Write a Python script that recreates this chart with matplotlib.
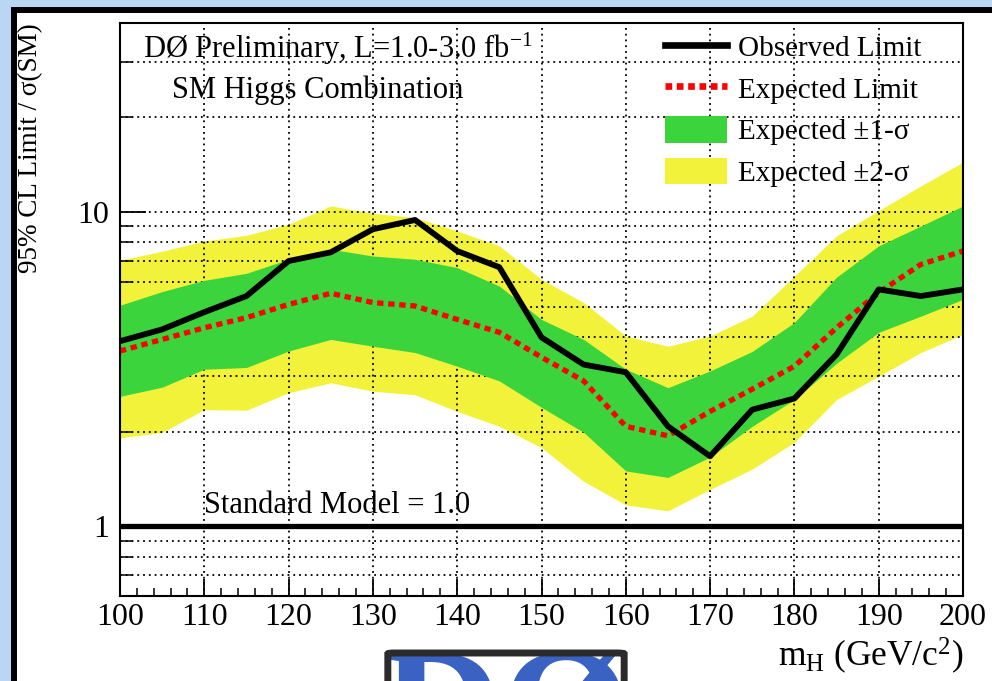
#region import
import matplotlib
matplotlib.use('Agg')
import matplotlib.pyplot as plt
from matplotlib.patches import Rectangle, FancyBboxPatch, Patch
from matplotlib.lines import Line2D
from matplotlib.ticker import FixedLocator, NullFormatter, FixedFormatter
#endregion

#region data
mass = [100, 105, 110, 115, 120, 125, 130, 135, 140, 145, 150,
        155, 160, 165, 170, 175, 180, 185, 190, 195, 200]
observed = [3.88, 4.23, 4.80, 5.40, 6.98, 7.44, 8.81, 9.43, 7.51, 6.67, 3.99,
            3.27, 3.09, 2.08, 1.67, 2.35, 2.55, 3.52, 5.67, 5.40, 5.67]
expected = [3.61, 3.93, 4.28, 4.61, 5.08, 5.51, 5.15, 5.02, 4.55, 4.14, 3.45,
            2.90, 2.08, 1.94, 2.32, 2.73, 3.23, 4.28, 5.54, 6.81, 7.51]
sig1_up = [5.05, 5.58, 6.06, 6.38, 7.07, 7.61, 7.24, 7.07, 6.65, 5.81, 4.55,
           3.93, 3.16, 2.76, 3.12, 3.60, 4.45, 6.20, 7.80, 9.02, 10.45]
sig1_dn = [2.59, 2.77, 3.16, 3.20, 3.61, 3.93, 3.74, 3.57, 3.23, 2.90, 2.39,
           1.99, 1.50, 1.43, 1.66, 2.08, 2.53, 3.30, 4.14, 4.66, 5.27]
sig2_up = [7.02, 7.50, 8.08, 8.43, 9.14, 10.45, 9.90, 9.60, 8.70, 7.80, 6.10,
           5.15, 4.03, 3.74, 4.03, 4.66, 6.25, 8.39, 10.10, 12.10, 14.40]
sig2_dn = [1.91, 1.99, 2.35, 2.34, 2.66, 2.86, 2.69, 2.62, 2.32, 2.08, 1.78,
           1.39, 1.17, 1.12, 1.31, 1.52, 1.85, 2.53, 3.00, 3.57, 4.08]

x_ticks = [100, 110, 120, 130, 140, 150, 160, 170, 180, 190, 200]
y_major = [1, 10]
y_minor = [0.6, 0.7, 0.8, 0.9, 2, 3, 4, 5, 6, 7, 8, 9, 20, 30, 40]
#endregion

#region config
plt.rcParams['font.family'] = ['Liberation Serif', 'DejaVu Serif']
plt.rcParams['mathtext.default'] = 'regular'
plt.rcParams['mathtext.fontset'] = 'custom'
plt.rcParams['mathtext.rm'] = 'Liberation Serif'

GREEN = '#3cd43c'
YELLOW = '#f2f23a'
#endregion

fig = plt.figure(figsize=(9.92, 6.81), dpi=100)
fig.patch.set_facecolor('#b9d6f4')

# white panel with the thick black frame (own axes so it stays at the back)
bg = fig.add_axes([0, 0, 1, 1], zorder=0)
bg.set_xlim(0, 992)
bg.set_ylim(681, 0)
bg.axis('off')
bg.add_patch(Rectangle((14, 10), 1100, 800, facecolor='white',
                       edgecolor='black', linewidth=4.3))

ax = fig.add_axes([120 / 992, (681 - 596) / 681, 843 / 992, 573.3 / 681], zorder=2)
ax.set_facecolor('none')
ax.set_yscale('log')
ax.set_xlim(100, 200)
ax.set_ylim(0.6, 40)

ax.fill_between(mass, sig2_dn, sig2_up, color=YELLOW, lw=0, zorder=2)
ax.fill_between(mass, sig1_dn, sig1_up, color=GREEN, lw=0, zorder=3)
ax.plot(mass, expected, color='red', lw=3.8, ls=(0, (1.2, 0.9)),
        dash_capstyle='butt', zorder=4)
ax.plot(mass, observed, color='black', lw=4.2, zorder=5)
ax.axhline(1.0, color='black', lw=3.8, zorder=5)

# ticks / grid
ax.xaxis.set_major_locator(FixedLocator(x_ticks))
ax.xaxis.set_minor_locator(FixedLocator(range(100, 201, 2)))
ax.yaxis.set_major_locator(FixedLocator(y_major))
ax.yaxis.set_major_formatter(FixedFormatter(['1', '10']))
ax.yaxis.set_minor_locator(FixedLocator(y_minor))
ax.yaxis.set_minor_formatter(NullFormatter())
ax.tick_params(axis='x', which='major', direction='in', length=12, width=1.3,
               labelsize=23, pad=5, top=False)
ax.tick_params(axis='x', which='minor', direction='in', length=6, width=1.1, top=False)
ax.tick_params(axis='y', which='major', direction='in', length=19, width=1.3,
               labelsize=23, pad=8, right=False)
ax.tick_params(axis='y', which='minor', direction='in', length=9.5, width=1.1, right=False)
ax.grid(True, axis='x', which='major', color='black', ls=(0, (1, 2.2)), lw=1.3, zorder=1)
ax.grid(True, axis='y', which='both', color='black', ls=(0, (1, 2.2)), lw=1.3, zorder=1)
ax.set_axisbelow(False)
for s in ax.spines.values():
  s.set_linewidth(1.5)
  s.set_zorder(6)

# text
ax.text(0.027, 0.955, r'DØ Preliminary, L=1.0-3.0 fb$^{-1}$', transform=ax.transAxes,
        fontsize=22, va='center', ha='left')
ax.text(0.062, 0.883, 'SM Higgs Combination', transform=ax.transAxes,
        fontsize=22, va='center', ha='left')
ax.text(0.1, 1.05, 'Standard Model = 1.0', transform=ax.get_yaxis_transform(),
        fontsize=22, va='bottom', ha='left')

fig.text(31 / 992, (681 - 23) / 681, '95% CL Limit / σ(SM)', rotation=90,
         fontsize=19.5, ha='center', va='top')
fig.text(963 / 992, (681 - 656) / 681, r'm$_{H}$ (GeV/c$^{2}$)',
         fontsize=25.5, ha='right', va='center')

# legend
handles = [Line2D([], [], color='black', lw=4.8),
           Line2D([], [], color='red', lw=4.8, ls=(0, (1.0, 0.7)), dash_capstyle='butt'),
           Patch(facecolor=GREEN, lw=0),
           Patch(facecolor=YELLOW, lw=0)]
labels = ['Observed Limit', 'Expected Limit', 'Expected ±1-σ', 'Expected ±2-σ']
ax.legend(handles, labels, loc='upper left', bbox_to_anchor=(0.6465, 0.982),
          frameon=False, fontsize=21, handlelength=2.14, handleheight=1.03,
          handletextpad=0.38, labelspacing=0.42, borderpad=0, borderaxespad=0)

# logo box at the bottom
lax = fig.add_axes([389 / 992, 0, 234 / 992, 28 / 681], zorder=1)
lax.set_xlim(0, 1)
lax.set_ylim(0, 1)
lax.axis('off')
lax.text(0.5, -4.2, 'DØ', fontsize=120, fontweight='bold', color='#3a62c2',
         ha='center', va='bottom', transform=lax.transAxes, clip_on=True, zorder=2)
lax.add_patch(FancyBboxPatch((-0.005, -1), 1.01, 2.0,
                             boxstyle='round,pad=0,rounding_size=0.03',
                             transform=lax.transAxes, facecolor='none',
                             edgecolor='#2b2b2b', linewidth=5, clip_on=False, zorder=3))

fig.savefig('out.png', dpi=100, facecolor=fig.get_facecolor())
